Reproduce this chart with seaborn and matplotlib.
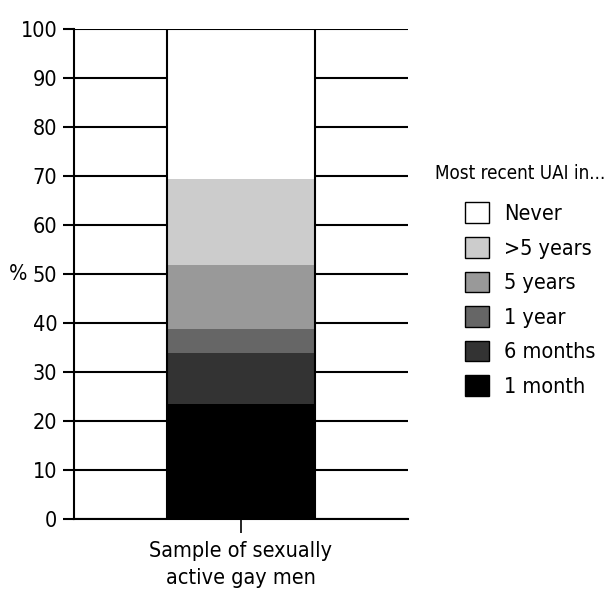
import numpy as np
import pandas as pd
import seaborn as sns
import matplotlib.pyplot as plt
from matplotlib.patches import Patch

# data (% of men)
categories = ["1 month", "6 months", "1 year", "5 years", ">5 years", "Never"]
values = [23.4, 10.5, 4.9, 13.0, 17.6, 30.6]
colors = ["#000000", "#333333", "#666666", "#999999", "#cccccc", "#ffffff"]
sample = "Sample of sexually\nactive gay men"
yticks = list(range(0, 101, 10))

sns.set_theme(style="white")
plt.rcParams['font.family'] = ['DejaVu Sans']
plt.rcParams['font.stretch'] = 'condensed'
plt.rcParams['text.color'] = 'black'
plt.rcParams['axes.labelcolor'] = 'black'
plt.rcParams['xtick.color'] = 'black'
plt.rcParams['ytick.color'] = 'black'

fs = 15.5

df = pd.DataFrame({"group": [sample] * len(categories),
                   "cat": categories,
                   "cum": np.cumsum(values)})

fig = plt.figure(figsize=(6.13, 5.92), dpi=100)
ax = fig.add_axes([0.1207, 0.1233, 0.545, 0.8277])

# stacked bar: draw cumulative totals from the top segment down
for i in range(len(categories) - 1, -1, -1):
    sns.barplot(data=df.iloc[[i]], x="group", y="cum", color=colors[i],
                saturation=1, width=0.5, linewidth=0, ax=ax)
# outline of whole bar
sns.barplot(data=df.iloc[[-1]], x="group", y="cum", fill=False,
            edgecolor="black", linewidth=1.5, width=0.5, ax=ax)

ax.set_xlim(-0.564, 0.564)
ax.set_ylim(0, 100)
ax.set_yticks(yticks)
ax.yaxis.grid(True, color="black", linewidth=1.5)
ax.set_axisbelow(True)
for s in ["top", "right"]:
    ax.spines[s].set_visible(False)
for s in ["left", "bottom"]:
    ax.spines[s].set_color("black")
    ax.spines[s].set_linewidth(1.5)
ax.tick_params(axis="y", left=True, length=8, width=1.5,
               labelsize=fs, pad=4)
ax.tick_params(axis="x", bottom=True, length=10, width=1.2,
               labelsize=fs, pad=6)
for t in ax.get_xticklabels():
    t.set_linespacing(1.4)
ax.set_xlabel("")
ax.set_ylabel("%", rotation=0, fontsize=fs, labelpad=2, va="center")

# legend: title as its own text, entries indented under it
fig.text(0.71, 0.707, "Most recent UAI in...", fontsize=13.5,
         ha="left", va="center")
handles = [Patch(facecolor=colors[i], edgecolor="black", linewidth=1)
           for i in range(len(categories) - 1, -1, -1)]
labels = categories[::-1]
fig.legend(handles, labels, loc="upper left", bbox_to_anchor=(0.758, 0.658),
           frameon=False, fontsize=fs, borderpad=0, borderaxespad=0,
           handlelength=1.15, handleheight=1.1, labelspacing=0.6,
           handletextpad=0.7)

fig.savefig("out.png", dpi=100)
